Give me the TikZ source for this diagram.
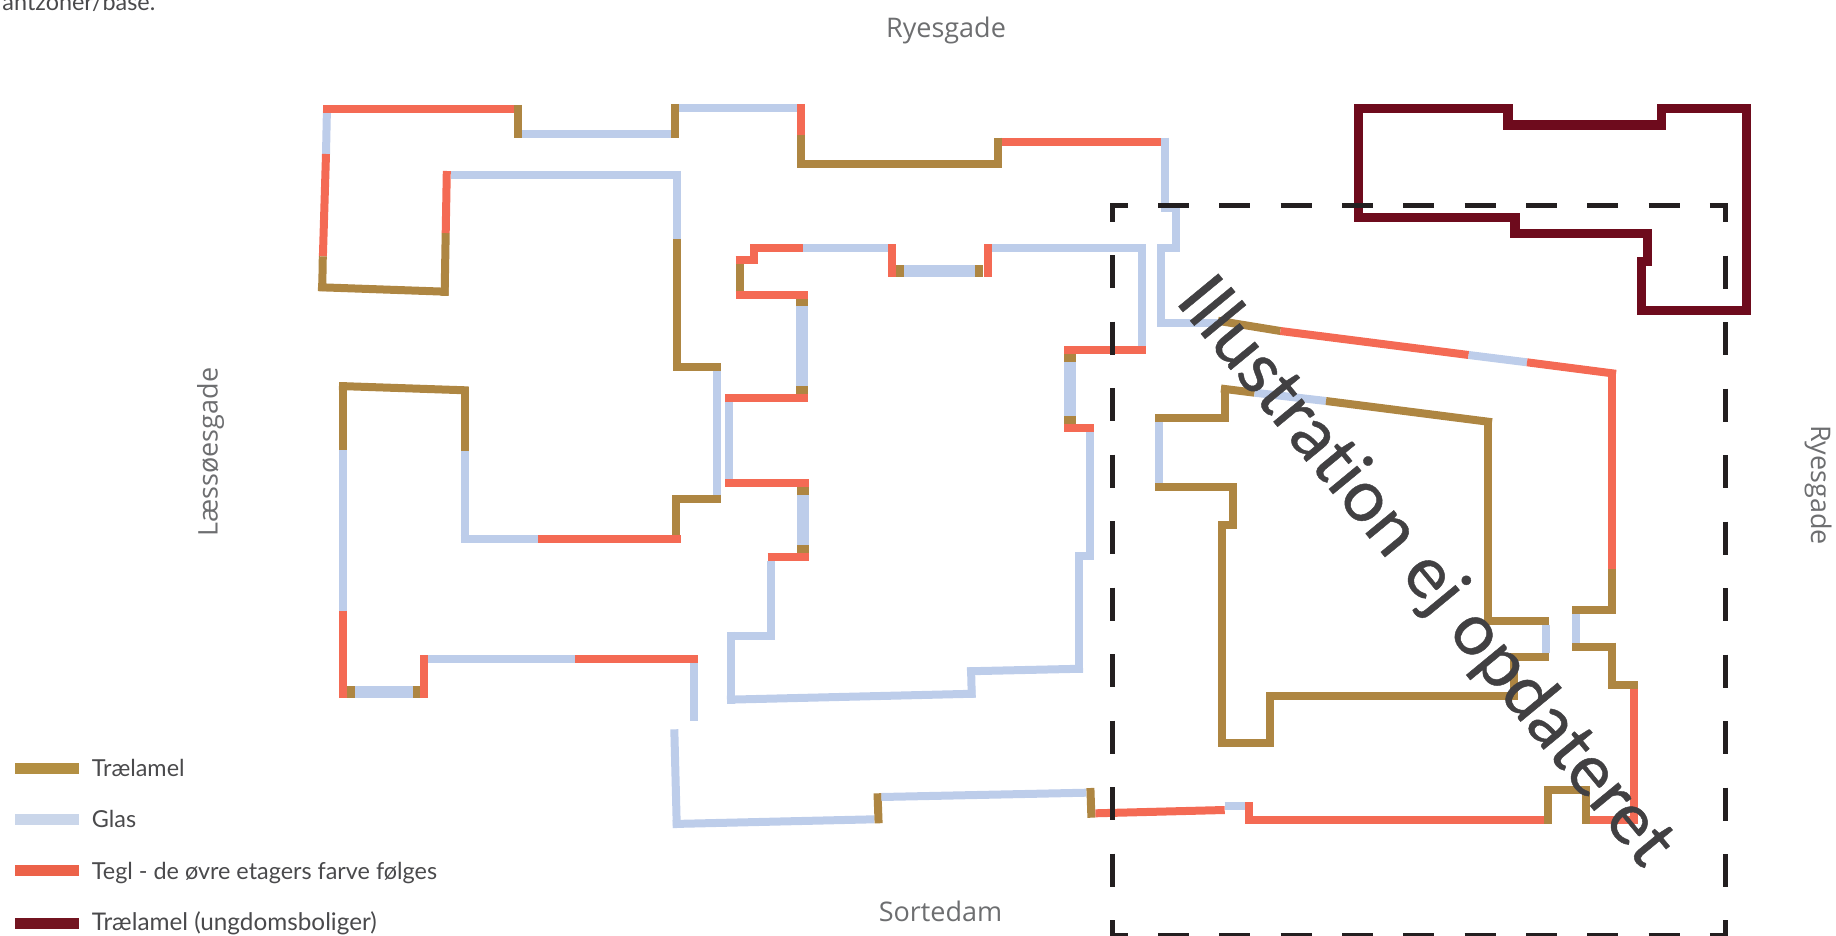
\documentclass[tikz,border=0pt]{standalone}
\usepackage{fontspec}
\setmainfont{Lato}
\newfontfamily\streetfont{Open Sans}
\newfontfamily\stampfont[FakeBold=0.6,Ligatures=NoCommon]{Lato}
\definecolor{woodc}{HTML}{AE8642}
\definecolor{glassc}{HTML}{BDCDEA}
\definecolor{brickc}{HTML}{F46A54}
\definecolor{youngc}{HTML}{6E0B1D}
\definecolor{legwood}{HTML}{B38F42}
\definecolor{legglass}{HTML}{CAD6EA}
\definecolor{legbrick}{HTML}{EC6249}
\definecolor{legyoung}{HTML}{731420}
\definecolor{framec}{HTML}{231F20}
\definecolor{streetc}{HTML}{6D6E70}
\definecolor{legtext}{HTML}{4A4A4C}
\definecolor{stampc}{HTML}{414042}
\tikzset{
 wood/.style={draw=woodc,line width=8pt},
 woodw/.style={draw=woodc,line width=12pt},
 glass/.style={draw=glassc,line width=8pt},
 glassw/.style={draw=glassc,line width=12pt},
 brick/.style={draw=brickc,line width=8pt},
 young/.style={draw=youngc,line width=9.5pt,miter limit=10},
 frameline/.style={draw=framec,line width=5.5pt},
 fdashh/.style={frameline,dash pattern=on 31pt off 30.33pt},
 fdashv/.style={frameline,dash pattern=on 33.3pt off 33.2pt},
 street/.style={text=streetc,font=\streetfont\fontsize{27}{30}\selectfont,inner sep=0pt},
 legendlabel/.style={text=legtext,font=\fontsize{23.4}{26}\selectfont,inner sep=0pt,anchor=base west},
 stamp/.style={text=stampc,font=\stampfont\fontsize{72}{80}\selectfont,inner sep=0pt,rotate=-50.5}
}
\begin{document}
\begin{tikzpicture}[x=1pt,y=-1pt]
\useasboundingbox (0,0) rectangle (1836,936);
\clip (0,0) rectangle (1836,936);
% ---- outer north-west range
\draw[glass] (326.9,111) -- (326,154);
\draw[brick] (326,154) -- (322.9,256.3);
\draw[wood] (322.8,256.3) -- (322.2,291);
\draw[wood] (318,287.2) -- (448.6,291.8);
\draw[wood] (444.6,295.8) -- (445.7,233);
\draw[brick] (445.7,233) -- (446.8,171);
\draw[glass] (451,175) -- (681,175);
\draw[glass] (676.8,171) -- (676.8,239);
\draw[wood] (676.8,239) -- (676.8,371);
\draw[wood] (672.8,367) -- (721,367);
\draw[glass] (717,371) -- (717,495);
\draw[wood] (672.9,499) -- (721,499);
\draw[wood] (676.4,495) -- (676.4,535);
\draw[brick] (537.5,538.7) -- (680.7,538.7);
\draw[glass] (460.7,538.7) -- (537.5,538.7);
\draw[glass] (464.6,451) -- (464.6,542.7);
\draw[wood] (464.6,386.7) -- (464.6,451);
\draw[wood] (339,386) -- (468.6,390.4);
\draw[wood] (342.9,382) -- (342.9,450.3);
\draw[glass] (342.9,450.3) -- (342.9,610.7);
\draw[brick] (342.9,610.7) -- (342.9,697.7);
\draw[glassw] (355,691.7) -- (412.5,691.7);
\draw[woodw] (346.8,691.7) -- (355,691.7);
\draw[woodw] (412.5,691.7) -- (420.4,691.7);
\draw[brick] (424.3,655.3) -- (424.3,697.7);
\draw[glass] (428.3,659.3) -- (575,659.3);
\draw[brick] (575,659.3) -- (698.2,659.3);
\draw[glass] (694.3,663.3) -- (694.3,721);
% ---- south range
\draw[glass] (674.3,729.3) -- (676.8,828);
\draw[glass] (672.8,824) -- (874.3,819.3);
\draw[wood] (877.5,793.3) -- (878.6,823.3);
\draw[glass] (881.4,797) -- (1086.4,792.7);
\draw[wood] (1090.4,788) -- (1091.4,817.7);
\draw[brick] (1095.4,813.3) -- (1224.7,810);
\draw[glass] (1224.7,806) -- (1245.3,806);
\draw[brick] (1249.3,802) -- (1249.3,823.7);
\draw[brick] (1245.3,819.7) -- (1544.3,819.7);
\draw[wood] (1548.2,786) -- (1548.2,823.7);
\draw[wood] (1544.3,790.3) -- (1590,790.3);
\draw[wood] (1586,786.3) -- (1586,823.7);
\draw[brick] (1590,819.7) -- (1638.3,819.7);
\draw[brick] (1634.3,689) -- (1634.3,823.7);
\draw[wood] (1608.3,685.3) -- (1638.3,685.3);
\draw[wood] (1612,642.7) -- (1612,689);
\draw[wood] (1572.3,646.5) -- (1616,646.5);
\draw[glass] (1576.3,613) -- (1576.3,642.7);
\draw[wood] (1572.3,610) -- (1616,610);
\draw[wood] (1612,569.3) -- (1612,613);
\draw[brick] (1612,373) -- (1612,569.3);
% ---- top range
\draw[brick] (323,109) -- (514,109);
\draw[wood] (518.2,105) -- (518.2,137.7);
\draw[glass] (522,133.7) -- (671.4,133.7);
\draw[wood] (675,104) -- (675,137.7);
\draw[glass] (679,108) -- (797.5,108);
\draw[brick] (801.4,104) -- (801.4,135.3);
\draw[wood] (801.4,135.3) -- (801.4,168.3);
\draw[wood] (797.5,164.3) -- (1002,164.3);
\draw[wood] (997.9,137.7) -- (997.9,168.3);
\draw[brick] (1002,141.7) -- (1161,141.7);
\draw[glass] (1165,137.7) -- (1165,212);
\draw[glass] (1161,208) -- (1180,208);
\draw[glass] (1176,208) -- (1176,252);
\draw[glass] (1157.5,248) -- (1180,248);
\draw[glass] (1161.4,244) -- (1161.4,326.7);
\draw[glass] (1157.5,322.5) -- (1218,322.5);
\draw[wood] (1218,320.8) -- (1280.4,331);
\draw[brick] (1280.4,331) -- (1468.6,355);
\draw[glass] (1468.6,355) -- (1527,362.3);
\draw[brick] (1527,362.3) -- (1616,373.8);
% ---- inner east block
\draw[wood] (1221,388.5) -- (1254.6,392.7);
\draw[glass] (1254.6,392.7) -- (1326,401);
\draw[wood] (1326,401) -- (1492,422.2);
\draw[wood] (1224.6,385.7) -- (1224.6,422.3);
\draw[wood] (1155.4,418.3) -- (1228.6,418.3);
\draw[glass] (1159.3,422) -- (1159.3,483.3);
\draw[wood] (1155.4,487.3) -- (1237,487.3);
\draw[wood] (1232.9,483.3) -- (1232.9,529);
\draw[wood] (1218,525) -- (1237,525);
\draw[wood] (1222,521) -- (1222,746.7);
\draw[wood] (1218,742.5) -- (1273.7,742.5);
\draw[wood] (1269.7,692) -- (1269.7,746.7);
\draw[wood] (1266,696) -- (1517.5,696);
\draw[wood] (1513.7,653.3) -- (1513.7,700);
\draw[wood] (1510,657) -- (1549.3,657);
\draw[glass] (1545.5,625) -- (1545.5,653.3);
\draw[wood] (1484,621) -- (1549.3,621);
\draw[wood] (1488,418) -- (1488,625);
% ---- middle court
\draw[brick] (750,248) -- (802.5,248);
\draw[glass] (802.5,248) -- (887.9,248);
\draw[brick] (892,244) -- (892,277.3);
\draw[woodw] (896,271.3) -- (904,271.3);
\draw[glassw] (904,271.3) -- (975.4,271.3);
\draw[woodw] (975.4,271.3) -- (983.2,271.3);
\draw[brick] (987.5,244) -- (987.5,277.3);
\draw[glass] (991.8,248) -- (1146,248);
\draw[glass] (1141.8,244) -- (1141.8,346);
\draw[brick] (1064.3,350) -- (1146,350);
\draw[woodw] (1070.4,354) -- (1070.4,362);
\draw[glassw] (1070.4,362) -- (1070.4,416);
\draw[woodw] (1070.4,416) -- (1070.4,424);
\draw[brick] (1064.3,428) -- (1094,428);
\draw[glass] (1090,432) -- (1090,559.7);
\draw[glass] (1075.4,556) -- (1094,556);
\draw[glass] (1079.3,552.3) -- (1079.3,672.7);
\draw[glass] (1083,668.7) -- (967,671.3);
\draw[glass] (971,667.3) -- (971.8,697.7);
\draw[glass] (975.4,693.7) -- (727,699.7);
\draw[glass] (731,631.7) -- (731,703.7);
\draw[glass] (727,635.7) -- (775.4,635.7);
\draw[glass] (771.4,561) -- (771.4,639.3);
\draw[brick] (767.5,557.3) -- (809,557.3);
\draw[woodw] (803,545.3) -- (803,553.3);
\draw[glassw] (803,494.7) -- (803,545.3);
\draw[woodw] (803,486.7) -- (803,494.7);
\draw[brick] (725.4,482.7) -- (809,482.7);
\draw[glass] (729.3,401.7) -- (729.3,479);
\draw[brick] (725.4,397.7) -- (807.9,397.7);
\draw[woodw] (801.8,385.7) -- (801.8,393.7);
\draw[glassw] (801.8,306.3) -- (801.8,385.7);
\draw[woodw] (801.8,298.3) -- (801.8,306.3);
\draw[brick] (735.7,294.7) -- (807.9,294.7);
\draw[wood] (739.6,264) -- (739.6,290.7);
\draw[brick] (735.7,260) -- (758.2,260);
\draw[brick] (754.3,244) -- (754.3,264);
% ---- youth housing
\draw[young] (1358.3,108.3) -- (1508,108.3) -- (1508,125) -- (1661.3,125) -- (1661.3,108.3) -- (1746.7,108.3) -- (1746.7,310.7) -- (1641.7,310.7) -- (1641.7,261.7) -- (1647.7,261.7) -- (1647.7,233.3) -- (1515,233.3) -- (1515,217.7) -- (1358.3,217.7) -- cycle;
% ---- dashed frame
\draw[frameline] (1112.7,222) -- (1112.7,205.7) -- (1128,205.7);
\draw[frameline] (1710,205.7) -- (1725.7,205.7) -- (1725.7,222);
\draw[frameline] (1112.7,920) -- (1112.7,936) -- (1128,936);
\draw[frameline] (1710,936) -- (1725.7,936) -- (1725.7,920);
\draw[fdashh] (1158,205.7) -- (1710,205.7);
\draw[fdashh] (1158,936) -- (1710,936);
\draw[fdashv] (1112.7,255) -- (1112.7,888);
\draw[fdashv] (1725.7,255.5) -- (1725.7,888);
% ---- street names
\node[street] (north) at (946,30.5) {Ryesgade};
\node[street] (south) at (940.5,911) {Sortedam};
\node[street,rotate=90] (west) at (210.5,452) {Læssøesgade};
\node[street,rotate=-90] (east) at (1818,485) {Ryesgade};
% ---- cut-off caption
\node[legendlabel,anchor=base east] (cap) at (155.5,11) {antzoner/base.};
% ---- legend
\draw[draw=legwood,line width=11pt] (15,768.5) -- (79,768.5);
\draw[draw=legglass,line width=11pt] (15,819.5) -- (79,819.5);
\draw[draw=legbrick,line width=11pt] (15,870.5) -- (79,870.5);
\draw[draw=legyoung,line width=11pt] (15,923.2) -- (79,923.2);
\node[legendlabel] (l1) at (91.7,776.7) {Trælamel};
\node[legendlabel] (l2) at (91.7,827.7) {Glas};
\node[legendlabel] (l3) at (91.7,879) {Tegl - de øvre etagers farve følges};
\node[legendlabel,font=\fontsize{24.3}{26}\selectfont] (l4) at (91.7,930) {Trælamel (ungdomsboliger)};
% ---- stamp
\node[stamp] (st) at (1424,573) {Illustration ej opdateret};
\end{tikzpicture}
\end{document}
